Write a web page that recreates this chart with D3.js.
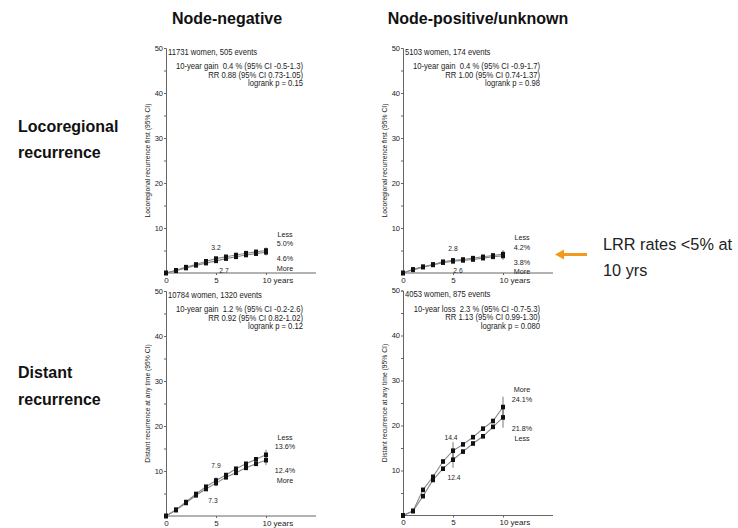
<!DOCTYPE html>
<html>
<head>
<meta charset="utf-8">
<script src="https://cdn.jsdelivr.net/npm/d3@7"></script>
<style>
  html, body { margin: 0; padding: 0; background: #fff; }
  svg { display: block; }
  .small { font-family: "Liberation Sans", Arial, sans-serif; fill: #222; white-space: pre; }
</style>
</head>
<body>
<svg id="chart" width="738" height="528"></svg>
<script>
// Years of follow-up (yearly points)
const years = [0, 1, 2, 3, 4, 5, 6, 7, 8, 9, 10];

// Node-negative, locoregional recurrence first (%)
const lrrNegLess = [0, 0.6, 1.3, 1.9, 2.6, 3.2, 3.6, 4.0, 4.4, 4.7, 5.0];
const lrrNegMore = [0, 0.5, 1.1, 1.7, 2.2, 2.7, 3.2, 3.6, 4.0, 4.3, 4.6];
// Node-positive/unknown, locoregional recurrence first (%)
const lrrPosLess = [0, 0.8, 1.4, 1.9, 2.5, 2.8, 3.0, 3.3, 3.6, 3.9, 4.2];
const lrrPosMore = [0, 0.7, 1.3, 1.8, 2.3, 2.6, 2.8, 3.0, 3.3, 3.6, 3.8];
// Node-negative, distant recurrence at any time (%)
const drNegLess = [0, 1.4, 3.1, 4.9, 6.5, 7.9, 9.1, 10.5, 11.6, 12.6, 13.6];
const drNegMore = [0, 1.3, 2.9, 4.6, 6.0, 7.3, 8.6, 9.6, 10.7, 11.6, 12.4];
// Node-positive/unknown, distant recurrence at any time (%)
const drPosMore = [0, 1.0, 5.7, 8.6, 12.0, 14.4, 15.8, 17.4, 19.3, 21.0, 24.1];
const drPosLess = [0, 1.0, 4.3, 7.9, 10.4, 12.4, 14.2, 16.0, 17.6, 19.7, 21.8];

// 95% CI bars at 5 and 10 years: [year, low, high]
const ciLrrNegLess = [[5, 2.8, 3.6], [10, 4.3, 5.7]];
const ciLrrNegMore = [[5, 2.3, 3.1], [10, 3.9, 5.3]];
const ciLrrPosLess = [[5, 2.3, 3.3], [10, 3.3, 5.1]];
const ciLrrPosMore = [[5, 2.1, 3.1], [10, 2.9, 4.7]];
const ciDrNegLess = [[5, 7.2, 8.6], [10, 12.5, 14.7]];
const ciDrNegMore = [[5, 6.6, 8.0], [10, 11.3, 13.5]];
const ciDrPosMore = [[5, 12.5, 16.3], [10, 21.8, 26.4]];
const ciDrPosLess = [[5, 10.6, 14.2], [10, 19.5, 24.1]];

// Panel texts
const colTitles = ["Node-negative", "Node-positive/unknown"];
const rowTitles = [["Locoregional", "recurrence"], ["Distant", "recurrence"]];
const yTitles = ["Locoregional recurrence first (95% CI)", "Distant recurrence at any time (95% CI)"];
const headers = ["11731 women, 505 events", "5103 women, 174 events",
                 "10784 women, 1320 events", "4053 women, 875 events"];
const statLines = [
  ["10-year gain  0.4 % (95% CI -0.5-1.3)", "RR 0.88 (95% CI 0.73-1.05)", "logrank p = 0.15"],
  ["10-year gain  0.4 % (95% CI -0.9-1.7)", "RR 1.00 (95% CI 0.74-1.37)", "logrank p = 0.98"],
  ["10-year gain  1.2 % (95% CI -0.2-2.6)", "RR 0.92 (95% CI 0.82-1.02)", "logrank p = 0.12"],
  ["10-year loss  2.3 % (95% CI -0.7-5.3)", "RR 1.13 (95% CI 0.99-1.30)", "logrank p = 0.080"]
];
const yTicks = [0, 5, 10, 15, 20, 25, 30, 35, 40, 45, 50];
const yLabels = [10, 20, 30, 40, 50];
const xTicks = [0, 5, 10];
const calloutLines = ["LRR rates <5% at", "10 yrs"];

const svg = d3.select("#chart");

// Panel frames: y-axis position, baseline and label offsets
const panels = [
  { x0: 166, base: 273, up: lrrNegLess, lo: lrrNegMore, ciUp: ciLrrNegLess, ciLo: ciLrrNegMore,
    upLab: ["Less", "5.0%"], loLab: ["4.6%", "More"], row: 0, col: 0,
    up5: [0, -9], lo5: [8, 10], up10: -14, lo10: 9 },
  { x0: 403, base: 273, up: lrrPosLess, lo: lrrPosMore, ciUp: ciLrrPosLess, ciLo: ciLrrPosMore,
    upLab: ["Less", "4.2%"], loLab: ["3.8%", "More"], row: 0, col: 1,
    up5: [0, -9], lo5: [5, 10], up10: -14, lo10: 9 },
  { x0: 166, base: 516, up: drNegLess, lo: drNegMore, ciUp: ciDrNegLess, ciLo: ciDrNegMore,
    upLab: ["Less", "13.6%"], loLab: ["12.4%", "More"], row: 1, col: 0,
    up5: [0, -12], lo5: [-3, 18], up10: -15, lo10: 13 },
  { x0: 403, base: 515.5, up: drPosMore, lo: drPosLess, ciUp: ciDrPosMore, ciLo: ciDrPosLess,
    upLab: ["More", "24.1%"], loLab: ["21.8%", "Less"], row: 1, col: 1,
    up5: [-2, -11], lo5: [1, 18], up10: -15, lo10: 14 }
];

const axisColor = "#666";
const sx = 0.9; // horizontal squeeze for the condensed small text

function smallText(g, x, y, size, anchor, txt, fill) {
  return g.append("text").attr("class", "small")
    .attr("transform", `translate(${x},${y}) scale(${sx},1)`)
    .attr("text-anchor", anchor).attr("font-size", size)
    .attr("fill", fill || "#222").text(txt);
}

panels.forEach((p, i) => {
  const x = d3.scaleLinear().domain([0, 15]).range([p.x0, p.x0 + 150]);
  const y = d3.scaleLinear().domain([0, 50]).range([p.base, p.base - 225]);
  const g = svg.append("g");

  // y axis
  const ya = g.append("g").attr("transform", `translate(${p.x0},0)`)
    .call(d3.axisLeft(y).tickValues(yTicks).tickSize(2)
      .tickFormat(d => yLabels.includes(d) ? d : ""));
  ya.select(".domain").attr("stroke", axisColor);
  ya.selectAll(".tick line").attr("stroke", axisColor);
  ya.selectAll(".tick text").attr("class", "small").attr("font-size", 7.5)
    .attr("fill", "#444").attr("x", -3);

  // x axis
  const xa = g.append("g").attr("transform", `translate(0,${p.base})`)
    .call(d3.axisBottom(x).tickValues(xTicks).tickSize(2)
      .tickFormat(d => d === 10 ? "10 years" : d));
  xa.select(".domain").attr("stroke", axisColor).attr("d", `M${p.x0},0H${p.x0 + 150}`);
  xa.selectAll(".tick line").attr("stroke", axisColor);
  xa.selectAll(".tick text").attr("class", "small").attr("font-size", 8)
    .attr("fill", "#333").attr("y", 4)
    .filter(d => d === 10).attr("text-anchor", "start").attr("dx", -4);

  // y title
  g.append("text").attr("class", "small")
    .attr("transform", `translate(${p.x0 - 16},${p.base - 112.5}) rotate(-90) scale(${sx},1)`)
    .attr("text-anchor", "middle").attr("font-size", 7.5).attr("fill", "#444")
    .text(yTitles[p.row]);

  // header and statistics
  const top = y(50);
  smallText(g, p.x0 + 2, top + 6.5, 8.5, "start", headers[i]);
  statLines[i].forEach((s, k) => {
    smallText(g, p.x0 + 137, top + 21 + k * 8.5, 8.5, "end", s);
  });

  // curves
  const line = d3.line().x((d, k) => x(years[k])).y(d => y(d));
  [p.up, p.lo].forEach(series => {
    g.append("path").datum(series).attr("d", line)
      .attr("fill", "none").attr("stroke", "#888").attr("stroke-width", 1.1);
  });
  // CI bars
  [p.ciUp, p.ciLo].forEach(ci => {
    g.selectAll(null).data(ci).enter().append("line")
      .attr("x1", d => x(d[0])).attr("x2", d => x(d[0]))
      .attr("y1", d => y(d[1])).attr("y2", d => y(d[2]))
      .attr("stroke", "#555").attr("stroke-width", 0.8);
  });
  // markers
  [p.up, p.lo].forEach(series => {
    g.selectAll(null).data(series).enter().append("rect")
      .attr("x", (d, k) => x(years[k]) - 2).attr("y", d => y(d) - 2.3)
      .attr("width", 4).attr("height", 4.6).attr("fill", "#111");
  });

  // 5-year value labels
  smallText(g, x(5) + p.up5[0], y(p.up[5]) + p.up5[1], 7.5, "middle", p.up[5].toFixed(1));
  smallText(g, x(5) + p.lo5[0], y(p.lo[5]) + p.lo5[1] + 2, 7.5, "middle", p.lo[5].toFixed(1));

  // 10-year labels
  const lx = x(10) + 19;
  p.upLab.forEach((t, k) => {
    smallText(g, lx, y(p.up[10]) + p.up10 + k * 9.5, 8, "middle", t);
  });
  p.loLab.forEach((t, k) => {
    smallText(g, lx, y(p.lo[10]) + p.lo10 + k * 9.5, 8, "middle", t);
  });
});

// Column titles
const colX = [227, 478];
colTitles.forEach((t, i) => {
  svg.append("text").attr("x", colX[i]).attr("y", 24).attr("text-anchor", "middle")
    .attr("font-family", "Liberation Sans, Arial, sans-serif").attr("font-weight", "bold")
    .attr("font-size", 16).attr("fill", "#111").text(t);
});

// Row titles
const rowY = [[132, 158], [378, 405]];
rowTitles.forEach((lines, r) => {
  lines.forEach((t, k) => {
    svg.append("text").attr("x", 18).attr("y", rowY[r][k])
      .attr("font-family", "Liberation Sans, Arial, sans-serif").attr("font-weight", "bold")
      .attr("font-size", 16).attr("fill", "#111").text(t);
  });
});

// Callout arrow and text
svg.append("line").attr("x1", 587).attr("y1", 254.5).attr("x2", 562).attr("y2", 254.5)
  .attr("stroke", "#f39a1e").attr("stroke-width", 3);
svg.append("path").attr("d", "M555,254.5 L564,249.5 L564,259.5 Z").attr("fill", "#f39a1e");
calloutLines.forEach((t, k) => {
  svg.append("text").attr("x", 603).attr("y", 250 + k * 26)
    .attr("font-family", "Liberation Sans, Arial, sans-serif")
    .attr("font-size", 16.3).attr("fill", "#222").text(t);
});
</script>
</body>
</html>
